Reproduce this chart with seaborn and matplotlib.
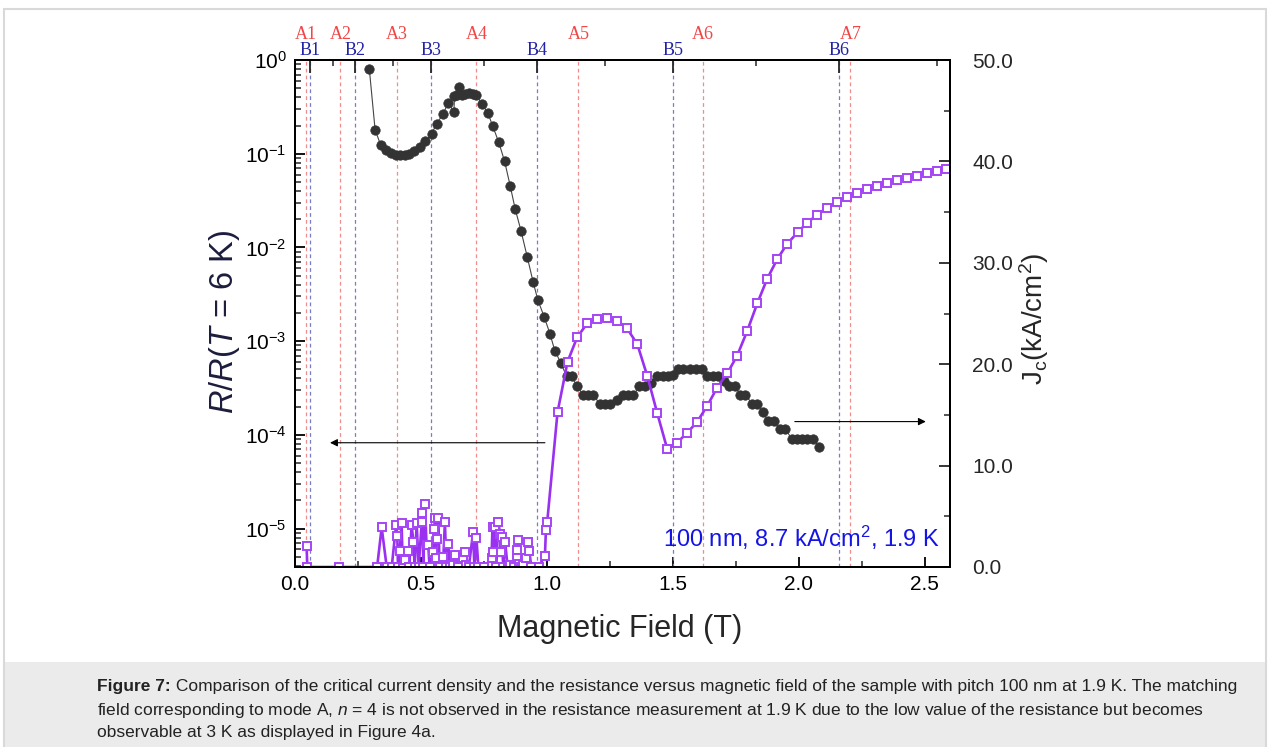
import numpy as np
import pandas as pd
import matplotlib
matplotlib.use("Agg")
import matplotlib.pyplot as plt
import matplotlib.transforms as mtransforms
from matplotlib.patches import Rectangle
from matplotlib.ticker import FixedLocator, FormatStrFormatter, LogLocator, NullFormatter
import seaborn as sns

# ---------------- data ----------------
# Resistance R/R(T=6K) (left, log axis)
r_field = [0.295, 0.318, 0.340, 0.361, 0.380, 0.400, 0.416, 0.436, 0.454, 0.474,
           0.497, 0.518, 0.542, 0.562, 0.587, 0.608, 0.631, 0.633, 0.644, 0.652,
           0.661, 0.676, 0.690, 0.705, 0.720, 0.741, 0.765, 0.784, 0.809, 0.832,
           0.854, 0.874, 0.897, 0.922, 0.945, 0.964, 0.989, 1.012, 1.032, 1.055,
           1.078, 1.098, 1.120, 1.144, 1.164, 1.184, 1.210, 1.230, 1.250, 1.277,
           1.300, 1.323, 1.343, 1.367, 1.389, 1.412, 1.435, 1.459, 1.481, 1.501,
           1.521, 1.541, 1.566, 1.590, 1.614, 1.636, 1.658, 1.679, 1.702, 1.724,
           1.747, 1.768, 1.788, 1.815, 1.835, 1.858, 1.878, 1.901, 1.925, 1.947,
           1.971, 1.991, 2.011, 2.033, 2.057, 2.081]
r_value = [0.80, 0.18, 0.124, 0.110, 0.101, 0.097, 0.097, 0.097, 0.100, 0.107,
           0.117, 0.137, 0.162, 0.209, 0.263, 0.347, 0.282, 0.417, 0.427, 0.513,
           0.427, 0.437, 0.447, 0.437, 0.427, 0.339, 0.275, 0.200, 0.132, 0.083,
           0.0457, 0.0257, 0.0151, 0.0079, 0.0043, 0.00275, 0.00182, 0.00120, 0.00078, 0.00059,
           0.00042, 0.00042, 0.00033, 0.000266, 0.000266, 0.000266, 0.000214, 0.000214, 0.000214, 0.000234,
           0.000266, 0.000266, 0.000266, 0.00033, 0.00033, 0.000355, 0.00042, 0.00042, 0.00042, 0.000437,
           0.000501, 0.000501, 0.000501, 0.000501, 0.000501, 0.00042, 0.00042, 0.00042, 0.00038, 0.00033,
           0.00033, 0.000266, 0.000266, 0.000214, 0.000214, 0.000174, 0.000139, 0.000139, 0.000115, 0.000115,
           0.0000912, 0.0000912, 0.0000912, 0.0000912, 0.0000912, 0.0000741]

# Critical current density Jc (right axis, kA/cm^2)
jc_field = [0.046, 0.049, 0.174, 0.326, 0.344, 0.364, 0.384, 0.401, 0.406, 0.409,
            0.416, 0.423, 0.428, 0.436, 0.450, 0.453, 0.463, 0.470, 0.475, 0.483,
            0.491, 0.503, 0.506, 0.509, 0.516, 0.522, 0.529, 0.534, 0.549, 0.553,
            0.556, 0.559, 0.562, 0.569, 0.574, 0.589, 0.595, 0.601, 0.608, 0.616,
            0.628, 0.635, 0.646, 0.668, 0.675, 0.680, 0.690, 0.707, 0.712, 0.720,
            0.728, 0.750, 0.780, 0.784, 0.787, 0.793, 0.799, 0.807, 0.814, 0.817,
            0.820, 0.827, 0.834, 0.844, 0.854, 0.868, 0.880, 0.883, 0.886, 0.890,
            0.898, 0.906, 0.917, 0.926, 0.930, 0.938, 0.967, 0.992, 0.996, 1.001,
            1.042, 1.082, 1.120, 1.160, 1.200, 1.239, 1.279, 1.318, 1.359, 1.398,
            1.438, 1.478, 1.517, 1.557, 1.596, 1.636, 1.676, 1.716, 1.755, 1.795,
            1.835, 1.874, 1.914, 1.953, 1.995, 2.033, 2.073, 2.112, 2.152, 2.192,
            2.231, 2.271, 2.311, 2.351, 2.390, 2.430, 2.470, 2.509, 2.549, 2.586]
jc_value = [2.1, 0.0, 0.0, 0.0, 3.9, 0.0, 0.0, 4.1, 3.1, 0.0,
            1.6, 4.3, 0.0, 0.7, 1.6, 0.0, 4.1, 2.5, 0.0, 4.3,
            0.0, 4.4, 5.3, 0.0, 6.2, 2.2, 2.2, 0.0, 1.5, 3.7,
            4.8, 0.85, 2.8, 4.8, 0.0, 1.0, 4.45, 0.0, 2.25, 0.0,
            0.2, 1.2, 0.0, 0.85, 1.5, 0.2, 0.0, 3.45, 0.0, 2.9,
            0.0, 0.0, 0.85, 3.95, 1.5, 3.95, 0.0, 4.4, 3.3, 1.5,
            3.0, 0.0, 2.5, 0.0, 0.2, 0.0, 1.7, 0.85, 2.7, 0.3,
            0.0, 0.2, 0.85, 2.5, 1.6, 0.0, 0.0, 1.1, 3.6, 4.4,
            15.25, 20.25, 22.65, 24.03, 24.43, 24.53, 24.3, 23.54, 21.96, 18.87,
            15.16, 11.6, 12.26, 13.25, 14.3, 15.88, 17.7, 19.1, 20.84, 23.27,
            26.0, 28.4, 30.35, 31.85, 33.0, 33.95, 34.74, 35.43, 35.97, 36.5,
            36.9, 37.3, 37.6, 37.9, 38.17, 38.4, 38.6, 38.85, 39.05, 39.25]

# matching fields
a_fields = [0.045, 0.18, 0.405, 0.72, 1.125, 1.62, 2.205]
a_labels = ["A1", "A2", "A3", "A4", "A5", "A6", "A7"]
b_fields = [0.06, 0.24, 0.54, 0.96, 1.50, 2.16]
b_labels = ["B1", "B2", "B3", "B4", "B5", "B6"]
b_minor = [0.15, 0.39, 0.75, 1.23, 1.83, 2.55]

x_ticks = [0.0, 0.5, 1.0, 1.5, 2.0, 2.5]
jc_ticks = [0.0, 10.0, 20.0, 30.0, 40.0, 50.0]

caption_bold = "Figure 7:"
caption_lines = [
    " Comparison of the critical current density and the resistance versus magnetic field of the sample with pitch 100 nm at 1.9 K. The matching",
    r"field corresponding to mode A, $\it{n}$ = 4 is not observed in the resistance measurement at 1.9 K due to the low value of the resistance but becomes",
    r"observable at 3 K as displayed in Figure 4a.",
]

# ---------------- style ----------------
sns.set_style("white")
plt.rcParams["font.family"] = ["Liberation Sans", "DejaVu Sans"]
plt.rcParams["mathtext.fontset"] = "custom"
plt.rcParams["mathtext.rm"] = "Liberation Sans"
plt.rcParams["mathtext.it"] = "Liberation Sans:italic"
plt.rcParams["mathtext.bf"] = "Liberation Sans:bold"

W, H = 1270, 747
fig = plt.figure(figsize=(W / 100, H / 100), dpi=100)
fig.patch.set_facecolor("white")

# caption background + outer border
fig.patches.append(Rectangle((4 / W, 0), (1266 - 4) / W, 85 / H, transform=fig.transFigure,
                             facecolor="#ebebeb", edgecolor="none", zorder=0))
fig.patches.append(Rectangle((4 / W, -0.01), (1266 - 4) / W, (747 - 9) / H + 0.01,
                             transform=fig.transFigure, facecolor="none",
                             edgecolor="#d9d9d9", lw=1.5, zorder=1))

ax = fig.add_axes([295 / W, 1 - 567 / H, 655 / W, 507 / H])
ax.set_facecolor("none")
axr = ax.twinx()
axt = ax.twiny()

# vertical matching-field lines
for xa in a_fields:
    ax.axvline(xa, color="#f08c8c", lw=0.9, ls=(0, (3, 2.5)), zorder=1)
for xb in b_fields:
    ax.axvline(xb, color="#7a7ac8", lw=0.9, ls=(0, (3, 2.5)), zorder=1)

# resistance
df_r = pd.DataFrame({"field": r_field, "R": r_value})
sns.lineplot(data=df_r, x="field", y="R", ax=ax, sort=False, estimator=None,
             color="#444444", lw=0.8, marker="o", markersize=6.8,
             markerfacecolor="#333333", markeredgecolor="#333333", markeredgewidth=0.5,
             zorder=3)

# critical current density
df_j = pd.DataFrame({"field": jc_field, "Jc": jc_value})
sns.lineplot(data=df_j, x="field", y="Jc", ax=axr, sort=False, estimator=None,
             color="#9a30f0", lw=1.9, marker="s", markersize=6.2,
             markerfacecolor="white", markeredgecolor="#a545f5", markeredgewidth=1.4,
             zorder=4, clip_on=True)

# ---------------- axes ----------------
ax.set_xlim(0, 2.6)
ax.set_yscale("log")
ax.set_ylim(10 ** -5.41, 1.0)
axr.set_ylim(0, 50.0)
axt.set_xlim(0, 2.6)

for a in (ax, axr, axt):
    for s in a.spines.values():
        s.set_linewidth(1.4)
        s.set_color("black")

ax.xaxis.set_major_locator(FixedLocator(x_ticks))
ax.xaxis.set_minor_locator(FixedLocator([0.25, 0.75, 1.25, 1.75, 2.25]))
ax.xaxis.set_major_formatter(FormatStrFormatter("%.1f"))
ax.yaxis.set_major_locator(LogLocator(base=10, numticks=10))
ax.yaxis.set_minor_locator(LogLocator(base=10, subs=np.arange(2, 10), numticks=20))
ax.yaxis.set_minor_formatter(NullFormatter())
ax.tick_params(axis="both", which="major", direction="in", length=7, width=1.3,
               labelsize=15, colors="black", top=False, right=False, pad=6)
ax.tick_params(axis="both", which="minor", direction="in", length=4, width=1.1,
               top=False, right=False)

axr.yaxis.set_major_locator(FixedLocator(jc_ticks))
axr.yaxis.set_minor_locator(FixedLocator([5, 15, 25, 35, 45]))
axr.yaxis.set_major_formatter(FormatStrFormatter("%.1f"))
axr.tick_params(axis="y", which="major", direction="in", length=8, width=1.3,
                labelsize=15, pad=16)
axr.tick_params(axis="y", which="minor", direction="in", length=4.5, width=1.1)

axt.xaxis.set_major_locator(FixedLocator(b_fields))
axt.xaxis.set_minor_locator(FixedLocator(b_minor))
axt.set_xticklabels(b_labels)
axt.tick_params(axis="x", which="major", direction="in", length=9, width=1.3,
                labelsize=13, labelcolor="#2222a6", pad=0.5)
axt.tick_params(axis="x", which="minor", direction="in", length=4.5, width=1.1)
for lab in axt.get_xticklabels():
    lab.set_family(["Liberation Serif", "DejaVu Serif"])

trans = mtransforms.blended_transform_factory(ax.transData, ax.transAxes)
for xa, la in zip(a_fields, a_labels):
    ax.text(xa, 1.050, la, transform=trans, ha="center", va="center",
            color="#f04646", fontsize=13, family=["Liberation Serif", "DejaVu Serif"])

# labels
ax.set_xlabel("Magnetic Field (T)", fontsize=22)
ax.xaxis.set_label_coords(0.496, -0.092)
ax.set_ylabel(r"$R/R(T$ = 6 K)", fontsize=23.5, color="#1c1c3c")
ax.yaxis.set_label_coords(-0.081, 0.483)
axr.set_ylabel(r"J$_\mathregular{c}$(kA/cm$^\mathregular{2}$)", fontsize=20, rotation=90)
axr.yaxis.set_label_coords(1.103, 0.49)
axt.set_xlabel("")

# arrows
ax.annotate("", xy=(0.139, 8.24e-5), xytext=(0.992, 8.24e-5),
            arrowprops=dict(arrowstyle="-|>", color="black", lw=0.8,
                            mutation_scale=11, shrinkA=0, shrinkB=0))
axr.annotate("", xy=(2.504, 14.34), xytext=(1.984, 14.34),
             arrowprops=dict(arrowstyle="-|>", color="black", lw=0.8,
                             mutation_scale=11, shrinkA=0, shrinkB=0))

ax.text(0.985, 0.058, r"100 nm, 8.7 kA/cm$^\mathregular{2}$, 1.9 K", transform=ax.transAxes,
        ha="right", va="center", fontsize=17, color="#1414e6")

# caption
cap_fs = 12.5
tb = fig.text(97 / W, 1 - 687 / H, caption_bold, ha="left", va="center",
              fontsize=cap_fs, fontweight="bold", color="#222222")
fig.canvas.draw()
ext = tb.get_window_extent()
fig.text(ext.x1 / W, 1 - 687 / H, caption_lines[0], ha="left", va="center",
         fontsize=cap_fs, color="#222222")
for i, line in enumerate(caption_lines[1:], start=1):
    fig.text(97 / W, 1 - (687 + 23 * i) / H, line, ha="left", va="center",
             fontsize=cap_fs, color="#222222")

fig.savefig("out.png", dpi=100)
